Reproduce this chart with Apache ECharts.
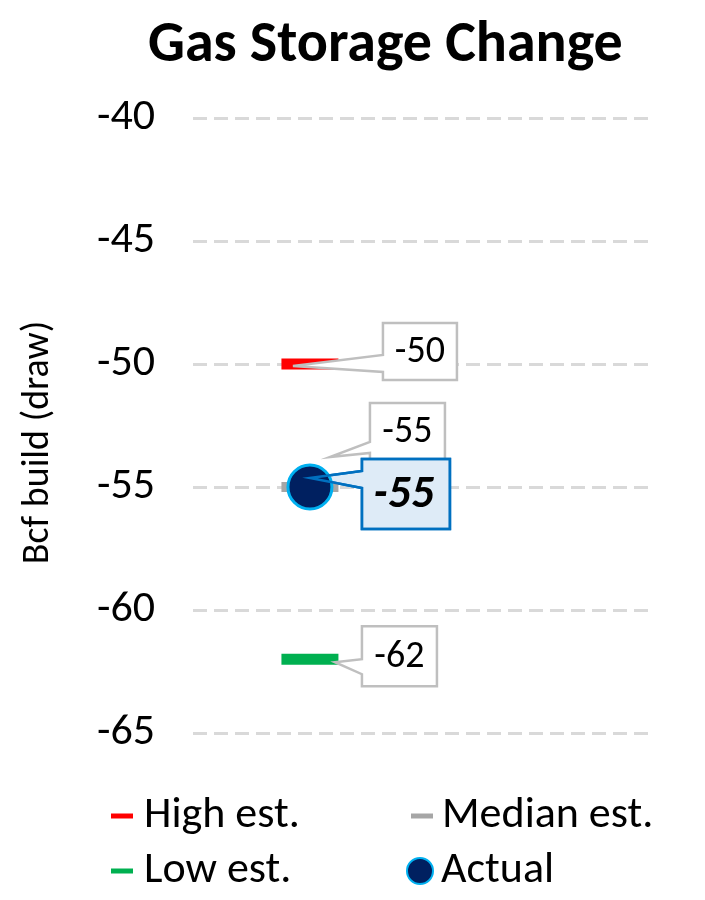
<!DOCTYPE html>
<html><head><meta charset="utf-8">
<script src="https://cdn.jsdelivr.net/npm/echarts@6/dist/echarts.min.js"></script>
<style>html,body{margin:0;padding:0;background:#fff}#c{width:705px;height:900px}</style>
</head><body><div id="c"></div>
<script>
// ---- data ----
const title = 'Gas Storage Change';
const yAxisName = 'Bcf build (draw)';
const seriesNames = ['High est.', 'Median est.', 'Low est.', 'Actual'];
const highEst = [-50];
const medianEst = [-55];
const lowEst = [-62];
const actual = [-55];
const yTickMin = -65, yTickMax = -40, yTickStep = 5;

// ---- layout / style ----
const FONT = 'Carlito, Lato, sans-serif';
const X_POS = 0.257; // horizontal placement of the single week within the plot
const COL = {high:'#ff0000', median:'#a6a6a6', low:'#00b050', actualFill:'#002060', actualBorder:'#00b0f0',
  grid:'#d9d9d9', calloutBorder:'#bfbfbf', actBorder:'#0070c0', actFill:'#deebf7'};

function pt(arr){ return arr.map(v => [X_POS, v]); }

function callout(name, values, shp, opt){
  return {
    type:'custom', name, z: opt.z, silent:true, clip:false,
    data: pt(values), encode:{x:0, y:1},
    renderItem(params, api){
      const p = api.coord([api.value(0), api.value(1)]);
      const [bx,by,bw,bh] = shp.box, [w1,w2] = shp.base, [tx,ty] = shp.tip;
      const x0 = p[0]+bx, y0 = p[1]+by;
      const pts = [[x0,y0],[x0+bw,y0],[x0+bw,y0+bh],[x0,y0+bh],[x0,p[1]+w2],[p[0]+tx,p[1]+ty],[x0,p[1]+w1]];
      const children = [{type:'polygon', shape:{points:pts},
        style:{fill: opt.strokeOnly ? 'none' : opt.fill, stroke: opt.stroke, lineWidth: opt.lw, lineJoin:'miter'}}];
      if(!opt.strokeOnly){
        children.push({type:'text', style:{text: String(api.value(1)), x: x0+bw/2+(opt.tdx||0), y: y0+bh/2+1,
          align:'center', verticalAlign:'middle', fill:'#000',
          font: (opt.font || ('normal 38px ' + FONT))}});
      }
      return {type:'group', children};
    }
  };
}

const chart = echarts.init(document.getElementById('c'), null, {renderer:'canvas'});
function lg(name, icon, left, top, w, h, padL){
  return {data:[{name, icon}], left, top, itemWidth:w, itemHeight:h, orient:'horizontal', itemGap:0,
    textStyle:{fontFamily:FONT, fontSize:44, color:'#000', padding:[0,0,0,padL]}};
}
chart.setOption({
  animation:false,
  backgroundColor:'#fff',
  title:{text:title, left:143, top:12, textStyle:{fontFamily:FONT, fontWeight:'bold', fontSize:58, color:'#000'}},
  grid:{left:193, right:57, top:118, bottom:167},
  xAxis:{type:'value', min:0, max:1, show:false},
  yAxis:{type:'value', min:yTickMin, max:yTickMax, interval:yTickStep,
    name:yAxisName, nameLocation:'middle', nameGap:136, nameRotate:90,
    nameTextStyle:{fontFamily:FONT, fontSize:38, color:'#000', padding:[0,34,0,0]},
    axisLine:{show:false}, axisTick:{show:false},
    axisLabel:{fontFamily:FONT, fontSize:44, color:'#000', margin:38},
    splitLine:{show:true, lineStyle:{color:COL.grid, width:3, type:[14,7]}}},
  legend:[
    lg(seriesNames[0], 'rect', 106, 789, 22, 5, 6),
    lg(seriesNames[1], 'rect', 406, 789, 22, 5, 4),
    lg(seriesNames[2], 'rect', 106, 844, 22, 5, 6),
    lg(seriesNames[3], 'circle', 401, 844, 26, 26, 3)
  ],
  series:[
    callout('medianCallout', medianEst, {box:[60,-84,75,57], base:[-45,-34], tip:[20,-30]},
      {z:2, fill:'#fff', stroke:COL.calloutBorder, lw:2.5}),
    callout('actualCallout', actual, {box:[52,-28,88,70], base:[-16,1], tip:[0,-9]},
      {z:2, fill:COL.actFill, stroke:COL.actBorder, lw:2.5, font:'italic bold 46px ' + FONT, tdx:-2}),
    {type:'scatter', name:seriesNames[0], z:3, data:pt(highEst), symbol:'rect', symbolSize:[57,11],
      itemStyle:{color:COL.high, opacity:1}, silent:true},
    {type:'scatter', name:seriesNames[1], z:3, data:pt(medianEst), symbol:'rect', symbolSize:[57,10],
      itemStyle:{color:COL.median, opacity:1}, silent:true},
    {type:'scatter', name:seriesNames[2], z:3, data:pt(lowEst), symbol:'rect', symbolSize:[57,11],
      itemStyle:{color:COL.low, opacity:1}, silent:true},
    {type:'scatter', name:seriesNames[3], z:4, data:pt(actual), symbol:'circle', symbolSize:44,
      itemStyle:{color:COL.actualFill, borderColor:COL.actualBorder, borderWidth:3, opacity:1}, silent:true},
    callout('actualCalloutLine', actual, {box:[52,-28,88,70], base:[-16,1], tip:[0,-9]},
      {z:5, strokeOnly:true, stroke:COL.actBorder, lw:2.5}),
    callout('highCallout', highEst, {box:[73,-41,74,57], base:[-9,8], tip:[-17,2]},
      {z:5, fill:'#fff', stroke:COL.calloutBorder, lw:2.5}),
    callout('lowCallout', lowEst, {box:[52,-33,75,60], base:[0,15], tip:[25,3]},
      {z:5, fill:'#fff', stroke:COL.calloutBorder, lw:2.5})
  ]
});
</script></body></html>
